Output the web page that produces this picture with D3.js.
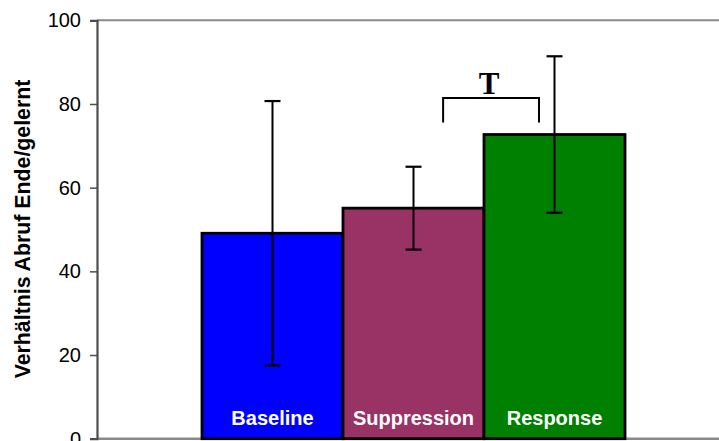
<!DOCTYPE html>
<html><head><meta charset="utf-8">
<script src="https://cdn.jsdelivr.net/npm/d3@7"></script>
<style>html,body{margin:0;padding:0;background:#fff;overflow:hidden}</style>
</head><body>
<svg id="c" width="719" height="441"></svg>
<script>
const categories = ["Baseline", "Suppression", "Response"];
const means = [49.1, 55.1, 72.7];
const errors = [31.6, 9.9, 18.7];
const colors = ["#0000FF", "#993366", "#008000"];
const yTicks = [0, 20, 40, 60, 80, 100];
const yTitle = "Verhältnis Abruf Ende/gelernt";
const sigLabel = "T";

const svg = d3.select("#c");
const y = d3.scaleLinear().domain([0, 100]).range([438.7, 20.3]);
const x = d3.scaleBand().domain(categories).range([202, 625]).padding(0);
const bw = x.bandwidth();

// frame lines
svg.append("line").attr("x1", 97).attr("x2", 719).attr("y1", y(100)).attr("y2", y(100))
  .attr("stroke", "#8a8a8a").attr("stroke-width", 2);
svg.append("line").attr("x1", 97).attr("x2", 719).attr("y1", y(0)).attr("y2", y(0))
  .attr("stroke", "#8a8a8a").attr("stroke-width", 2.5);

// bars
svg.selectAll("rect.bar").data(categories).enter().append("rect")
  .attr("x", d => x(d)).attr("width", bw)
  .attr("y", (d, i) => y(means[i])).attr("height", (d, i) => y(0) - y(means[i]))
  .attr("fill", (d, i) => colors[i]).attr("stroke", "#000").attr("stroke-width", 2.8);

// y axis
const ax = svg.append("g").attr("transform", "translate(97,0)")
  .call(d3.axisLeft(y).tickValues(yTicks).tickSize(7).tickPadding(9));
ax.select(".domain").attr("stroke", "#4d4d4d").attr("stroke-width", 2.2);
ax.selectAll(".tick line").attr("stroke", "#4d4d4d").attr("stroke-width", 1.5);
ax.selectAll(".tick text").attr("font-family", "Liberation Sans, Arial, sans-serif")
  .attr("font-size", 20).attr("fill", "#000");

// error bars
const eb = svg.selectAll("g.eb").data(categories).enter().append("g");
eb.append("line").attr("x1", d => x(d) + bw / 2).attr("x2", d => x(d) + bw / 2)
  .attr("y1", (d, i) => y(means[i] + errors[i])).attr("y2", (d, i) => y(means[i] - errors[i]))
  .attr("stroke", "#000").attr("stroke-width", 2);
[1, -1].forEach(s => {
  eb.append("line").attr("x1", d => x(d) + bw / 2 - 8).attr("x2", d => x(d) + bw / 2 + 8)
    .attr("y1", (d, i) => y(means[i] + s * errors[i])).attr("y2", (d, i) => y(means[i] + s * errors[i]))
    .attr("stroke", "#000").attr("stroke-width", 2.2);
});

// category labels inside bars
svg.selectAll("text.lab").data(categories).enter().append("text")
  .attr("x", d => x(d) + bw / 2).attr("y", 425)
  .attr("text-anchor", "middle").attr("font-family", "Liberation Sans, Arial, sans-serif")
  .attr("font-weight", "bold").attr("font-size", 20).attr("fill", "#fff").text(d => d);

// significance bracket
const bx1 = x("Suppression") + 0.71 * bw, bx2 = x("Response") + 0.39 * bw;
svg.append("path")
  .attr("d", `M${bx1},${y(75.6)}V${y(81.4)}H${bx2}V${y(75.6)}`)
  .attr("fill", "none").attr("stroke", "#000").attr("stroke-width", 2);
svg.append("text").attr("x", (bx1 + bx2) / 2 - 2).attr("y", 94.3)
  .attr("text-anchor", "middle").attr("font-family", "Liberation Serif, Times New Roman, serif")
  .attr("font-weight", "bold").attr("font-size", 31).text(sigLabel);

// y title
svg.append("text").attr("transform", "translate(30,229) rotate(-90)")
  .attr("text-anchor", "middle").attr("font-family", "Liberation Sans, Arial, sans-serif")
  .attr("font-weight", "bold").attr("font-size", 21.3).attr("fill", "#000").text(yTitle);
</script>
</body></html>
